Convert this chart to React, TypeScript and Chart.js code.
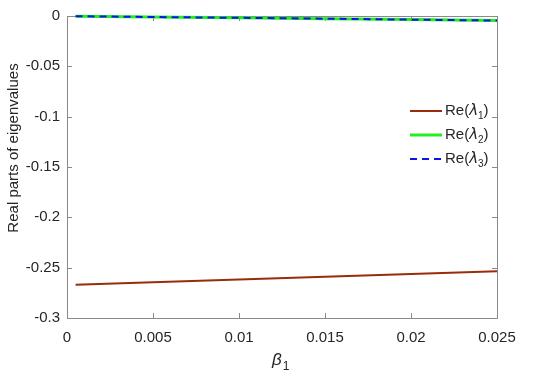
import { useEffect, useRef } from 'react';
import { Chart, registerables } from 'chart.js';

Chart.register(...registerables);

const betaValues = [0.0005, 0.005, 0.01, 0.015, 0.02, 0.025];
const re1 = [-0.267, -0.2645, -0.2618, -0.259, -0.2563, -0.2535];
const re2 = [-0.0002, -0.001, -0.0018, -0.0027, -0.0036, -0.0045];
const re3 = [-0.0002, -0.001, -0.0018, -0.0027, -0.0036, -0.0045];
const xTicks = [0, 0.005, 0.01, 0.015, 0.02, 0.025];
const yTicks = [0, -0.05, -0.1, -0.15, -0.2, -0.25, -0.3];
const legendNames = ['1', '2', '3'];

const FONT = '"Liberation Sans", Arial, Helvetica, sans-serif';
const AXIS_COLOR = '#8a8a8a';
const TEXT_COLOR = '#262626';
const RED = '#9a2c0c';
const GREEN = '#22ee22';
const BLUE = '#0a14e6';

const fmt = (v: number) => String(Math.round(v * 1000) / 1000);

const overlay = {
  id: 'overlay',
  beforeDatasetsDraw(chart: any) {
    const { ctx, chartArea: a, scales } = chart;
    const xs = scales.x;
    const ys = scales.y;
    ctx.save();
    ctx.strokeStyle = AXIS_COLOR;
    ctx.lineWidth = 1;
    ctx.strokeRect(Math.round(a.left) + 0.5, Math.round(a.top) + 0.5, Math.round(a.right - a.left), Math.round(a.bottom - a.top));
    const tl = 5;
    ctx.beginPath();
    for (const v of xTicks) {
      const px = Math.round(xs.getPixelForValue(v)) + 0.5;
      ctx.moveTo(px, a.bottom);
      ctx.lineTo(px, a.bottom - tl);
      ctx.moveTo(px, a.top);
      ctx.lineTo(px, a.top + tl);
    }
    for (const v of yTicks) {
      const py = Math.round(ys.getPixelForValue(v)) + 0.5;
      ctx.moveTo(a.left, py);
      ctx.lineTo(a.left + tl, py);
      ctx.moveTo(a.right, py);
      ctx.lineTo(a.right - tl, py);
    }
    ctx.stroke();
    ctx.restore();
  },
  afterDraw(chart: any) {
    const { ctx } = chart;
    ctx.save();
    ctx.fillStyle = TEXT_COLOR;
    ctx.font = `15px ${FONT}`;
    ctx.textAlign = 'center';
    ctx.textBaseline = 'middle';
    ctx.save();
    ctx.translate(14, 148);
    ctx.rotate(-Math.PI / 2);
    ctx.fillText('Real parts of eigenvalues', 0, 0);
    ctx.restore();

    ctx.textAlign = 'left';
    ctx.textBaseline = 'alphabetic';
    ctx.font = `italic 17px ${FONT}`;
    const bx = 272;
    const by = 365;
    ctx.fillText('β', bx, by);
    const bw = ctx.measureText('β').width;
    ctx.font = `12px ${FONT}`;
    ctx.fillText('1', bx + bw + 1, by + 5);

    const colors = [RED, GREEN, BLUE];
    const widths = [2, 3, 2];
    const dashes = [[], [], [7, 5]];
    const rowY = [111, 135, 159];
    for (let i = 0; i < 3; i++) {
      const y = rowY[i];
      ctx.save();
      ctx.strokeStyle = colors[i];
      ctx.lineWidth = widths[i];
      ctx.setLineDash(dashes[i]);
      ctx.beginPath();
      ctx.moveTo(410, y);
      ctx.lineTo(442, y);
      ctx.stroke();
      ctx.restore();
      ctx.fillStyle = TEXT_COLOR;
      ctx.textBaseline = 'middle';
      ctx.font = `15px ${FONT}`;
      let x = 445;
      ctx.fillText('Re(', x, y);
      x += ctx.measureText('Re(').width;
      ctx.font = `italic 15px "DejaVu Sans", ${FONT}`;
      ctx.fillText('λ', x, y);
      x += ctx.measureText('λ').width;
      ctx.font = `10px ${FONT}`;
      ctx.fillText(legendNames[i], x, y + 5);
      x += ctx.measureText(legendNames[i]).width;
      ctx.font = `15px ${FONT}`;
      ctx.fillText(')', x, y);
    }
    ctx.restore();
  },
};

export default function App() {
  const ref = useRef<HTMLCanvasElement>(null);
  useEffect(() => {
    document.body.style.margin = '0';
    const chart = new Chart(ref.current as HTMLCanvasElement, {
      type: 'line',
      data: {
        datasets: [
          {
            label: 'Re(λ1)',
            data: betaValues.map((x, i) => ({ x, y: re1[i] })),
            borderColor: RED,
            borderWidth: 2,
            pointRadius: 0,
            clip: 6,
            order: 2,
          },
          {
            label: 'Re(λ2)',
            data: betaValues.map((x, i) => ({ x, y: re2[i] })),
            borderColor: GREEN,
            borderWidth: 3,
            pointRadius: 0,
            clip: 6,
            order: 1,
          },
          {
            label: 'Re(λ3)',
            data: betaValues.map((x, i) => ({ x, y: re3[i] })),
            borderColor: BLUE,
            borderWidth: 2,
            borderDash: [7, 5],
            pointRadius: 0,
            clip: 6,
            order: 0,
          },
        ],
      },
      options: {
        responsive: false,
        animation: false,
        layout: { padding: { left: 0, top: 15, right: 53, bottom: 0 } },
        plugins: { legend: { display: false }, tooltip: { enabled: false } },
        scales: {
          x: {
            type: 'linear',
            min: 0,
            max: 0.025,
            grid: { display: false, drawTicks: false },
            border: { display: false },
            afterBuildTicks: (s: any) => {
              s.ticks = xTicks.map((v) => ({ value: v }));
            },
            afterFit: (s: any) => {
              s.height = 61;
            },
            ticks: {
              padding: 11,
              color: TEXT_COLOR,
              font: { family: FONT, size: 15 },
              maxRotation: 0,
              autoSkip: false,
              callback: (v: any) => fmt(Number(v)),
            },
          },
          y: {
            type: 'linear',
            min: -0.3,
            max: 0,
            grid: { display: false, drawTicks: false },
            border: { display: false },
            afterBuildTicks: (s: any) => {
              s.ticks = yTicks.map((v) => ({ value: v }));
            },
            afterFit: (s: any) => {
              s.width = 67;
            },
            ticks: {
              padding: 7,
              color: TEXT_COLOR,
              font: { family: FONT, size: 15 },
              autoSkip: false,
              callback: (v: any) => fmt(Number(v)),
            },
          },
        },
      },
      plugins: [overlay],
    });
    return () => chart.destroy();
  }, []);
  return (
    <div style={{ position: 'relative', width: 550, height: 379 }}>
      <canvas ref={ref} width={550} height={379} style={{ display: 'block' }} />
    </div>
  );
}
